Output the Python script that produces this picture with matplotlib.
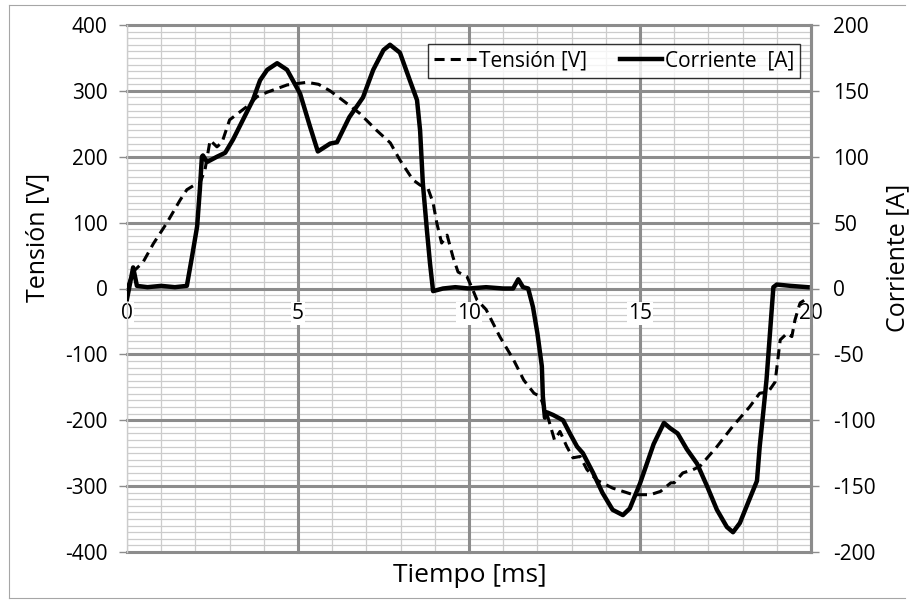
import matplotlib
matplotlib.use("Agg")
import matplotlib.pyplot as plt
from matplotlib.lines import Line2D
import numpy as np

plt.rcParams['font.family'] = ['Open Sans', 'DejaVu Sans']
plt.rcParams['axes.unicode_minus'] = False

# tension (left axis) and corriente (right axis) over one 20 ms cycle
t_v = [0, 0.1, 0.23, 0.47, 0.77, 1.17, 1.55, 1.75, 2.0, 2.13, 2.28, 2.43, 2.63, 2.78,
       3.0, 3.5, 3.8, 4.1, 4.68, 5.26, 5.6, 5.94, 6.3, 6.8, 7.3, 7.7, 7.98, 8.36, 8.57,
       8.8, 8.95, 9.06, 9.2, 9.36, 9.53, 9.68, 9.94, 10.08, 10.23, 10.5, 10.9, 11.3,
       11.6, 11.9, 12.08, 12.3, 12.5, 12.66, 12.86, 13.04, 13.25, 13.45, 13.74, 14.2,
       14.8, 15.3, 15.6, 15.9, 16.0, 16.25, 16.55, 16.75, 17.25, 17.7, 18.2, 18.5,
       18.75, 18.95, 19.1, 19.3, 19.44, 19.53, 19.68, 19.8]
tension = [0, 15, 28, 40, 68, 100, 134, 150, 158, 160, 180, 225, 215, 222,
           256, 276, 291, 298, 309, 313, 310, 300, 286, 266, 240, 221, 195, 165, 157,
           152, 130, 99, 69, 81, 48, 25, 18, 2, -17, -32, -73, -108,
           -139, -159, -164, -194, -230, -217, -240, -257, -255, -275, -291, -303,
           -313, -313, -308, -295, -295, -280, -275, -270, -240, -210, -180, -159,
           -157, -142, -78, -68, -73, -48, -22, -18]

t_i = [0, 0.18, 0.29, 0.6, 1.0, 1.4, 1.75, 1.9, 2.05, 2.13, 2.19, 2.22, 2.34, 2.63,
       2.87, 3.1, 3.39, 3.68, 3.89, 4.1, 4.39, 4.68, 5.06, 5.35, 5.58, 5.94, 6.14,
       6.5, 6.9, 7.2, 7.5, 7.69, 7.98, 8.27, 8.48, 8.57, 8.65, 8.77, 8.86, 8.95, 9.24,
       9.6, 10.0, 10.5, 11.0, 11.29, 11.44, 11.58, 11.73, 11.87, 12.0, 12.13, 12.16,
       12.22, 12.28, 12.46, 12.75, 12.95, 13.16, 13.33, 13.63, 13.9, 14.2, 14.5, 14.7,
       15.0, 15.4, 15.7, 15.88, 16.1, 16.37, 16.67, 16.96, 17.25, 17.54, 17.72, 17.92,
       18.2, 18.42, 18.5, 18.6, 18.7, 18.8, 18.9, 19.0, 19.4, 19.9]
corriente = [-8, 16, 2, 1, 2, 1, 2, 24, 47, 75, 100, 101, 96, 100,
             103, 113, 128, 143, 158, 166, 171, 166, 148, 123, 104, 110, 111,
             130, 145, 166, 181, 185, 179, 158, 143, 120, 80, 44, 19, -2, 0,
             1, 0, 1, 0, 0, 7, 1, 0, -14, -34, -59, -82,
             -98, -94, -96, -100, -110, -120, -125, -140, -155, -168, -172, -167,
             -148, -118, -102, -106, -110, -122, -133, -150, -168, -181, -185, -178,
             -160, -146, -120, -95, -69, -34, 1, 3, 2, 1]

x_labels = ['0', '5', '10', '15', '20']
x_label_pos = [0, 5, 10, 15, 20]

W, H = 924, 603
fig = plt.figure(figsize=(W / 100, H / 100), dpi=100)
ax = fig.add_axes([127 / W, 1 - 552 / H, (811 - 127) / W, (552 - 25) / H])
ax2 = ax.twinx()

major_c = '#8c8c8c'
minor_c = '#cccccc'

ax.set_xlim(0, 20)
ax.set_ylim(-400, 400)
ax2.set_ylim(-200, 200)

# light 1 ms / 10 V grid underneath, heavy 5 ms / 100 V grid on top of it
ax.set_xticks(np.arange(0, 21, 1), minor=True)
ax.set_yticks(np.arange(-400, 401, 10), minor=True)
ax.grid(which='minor', color=minor_c, lw=0.9)
ax.set_axisbelow(True)
for xv in np.arange(5, 21, 5):
    ax.axvline(xv, color=major_c, lw=2.2, zorder=1, clip_on=False)
for yv in np.arange(-400, 401, 100):
    ax.axhline(yv, color=major_c, lw=2.2, zorder=1, clip_on=False)

ax.set_xticks([])
ax.set_yticks(np.arange(-400, 401, 100))
ax.tick_params(axis='x', which='both', length=0, labelbottom=False)
ax.tick_params(axis='y', which='major', direction='out', length=6, width=1,
               color=major_c, labelsize=15, pad=8)
ax.tick_params(axis='y', which='minor', length=0)
ax2.set_yticks(np.arange(-200, 201, 50))
ax2.tick_params(axis='y', which='major', direction='out', length=6, width=1,
                color=major_c, labelsize=15, pad=10)

for s in ['top', 'bottom', 'right']:
    ax.spines[s].set_visible(False)
ax.spines['left'].set_color(minor_c)
ax.spines['left'].set_linewidth(1)
for s in ['top', 'bottom', 'left']:
    ax2.spines[s].set_visible(False)
ax2.spines['right'].set_color(major_c)
ax2.spines['right'].set_linewidth(2.2)

# time labels sit on the zero line with a white backdrop
for xp, lab in zip(x_label_pos, x_labels):
    ax.text(xp, -38, lab, ha='center', va='center', fontsize=15,
            bbox=dict(facecolor='white', edgecolor='none', pad=1.0), zorder=1.5)

ax.plot(t_v, tension, color='black', lw=2.2, ls=(0, (3.3, 2.0)), zorder=3)
ax2.plot(t_i, corriente, color='black', lw=3.2, zorder=3)

fig.text(38 / W, 1 - 237 / H, 'Tensión [V]', rotation=90, ha='center', va='center', fontsize=18)
fig.text(898 / W, 1 - 258 / H, 'Corriente [A]', rotation=90, ha='center', va='center', fontsize=18)
fig.text(470 / W, 1 - 576 / H, 'Tiempo [ms]', ha='center', va='center', fontsize=19)

handles = [Line2D([], [], color='black', lw=2.2, ls=(0, (3.3, 2.0))),
           Line2D([], [], color='black', lw=3.2)]
leg = fig.legend(handles, ['Tensión [V]', 'Corriente  [A]'], loc='center',
                 bbox_to_anchor=(614 / W, 1 - 61 / H), ncol=2, fontsize=15,
                 frameon=True, fancybox=False, handlelength=2.0, handletextpad=0.15,
                 columnspacing=1.6, borderpad=0.3, borderaxespad=0)
leg.get_frame().set_edgecolor('black')
leg.get_frame().set_linewidth(1.0)

# outer chart border
for xs, ys in [([9, 905], [5, 5]), ([9, 9], [5, 598]), ([9, 905], [598, 598])]:
    fig.add_artist(Line2D([x / W for x in xs], [1 - y / H for y in ys],
                          color='#a6a6a6', lw=0.8))

fig.savefig('out.png', dpi=100)
